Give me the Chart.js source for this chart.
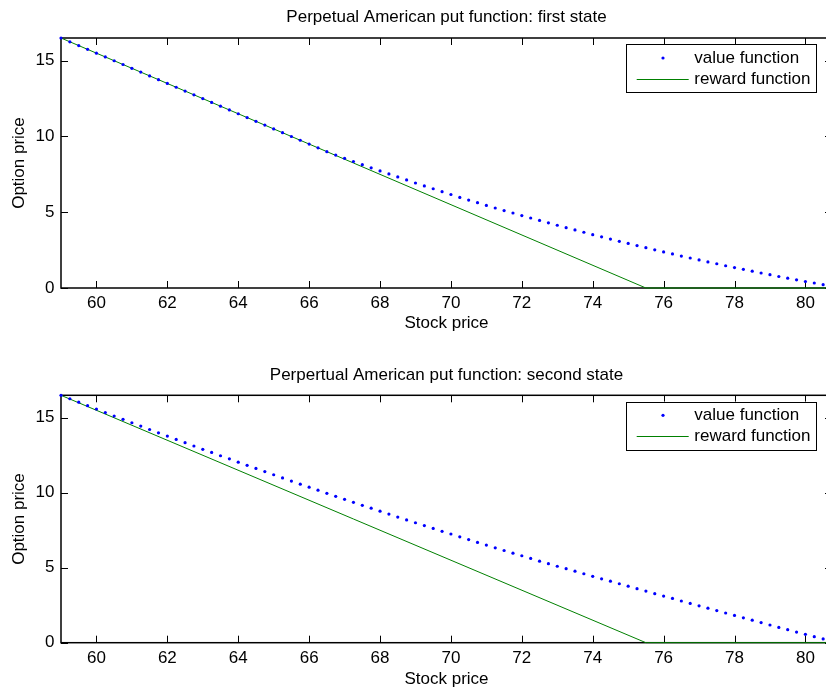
<!DOCTYPE html>
<html>
<head>
<meta charset="utf-8">
<script src="https://cdn.jsdelivr.net/npm/chart.js@4/dist/chart.umd.min.js"></script>
<style>
  html, body { margin: 0; padding: 0; background: #fff; overflow: hidden; width: 826px; height: 694px; }
  .wrap { position: absolute; left: 0; width: 832px; height: 347px; }
  canvas { display: block; }
</style>
</head>
<body>
<div class="wrap" style="top:0"><canvas id="c1" width="832" height="347"></canvas></div>
<div class="wrap" style="top:347px"><canvas id="c2" width="832" height="347"></canvas></div>
<script>
// ---------------- data ----------------
const TITLE_FIRST = 'Perpetual American put function: first state';
const TITLE_SECOND = 'Perpertual American put function: second state';
const X_LABEL = 'Stock price';
const Y_LABEL = 'Option price';
const LEGEND_VALUE = 'value function';
const LEGEND_REWARD = 'reward function';

const X_TICKS = [60, 62, 64, 66, 68, 70, 72, 74, 76, 78, 80];
const Y_TICKS = [0, 5, 10, 15];
const X_RANGE = [59, 80.75];
const Y_RANGE = [0, 16.5];

const STOCK = [
  59, 59.25, 59.5, 59.75, 60, 60.25, 60.5, 60.75, 61, 61.25, 61.5, 61.75,
  62, 62.25, 62.5, 62.75, 63, 63.25, 63.5, 63.75, 64, 64.25, 64.5, 64.75,
  65, 65.25, 65.5, 65.75, 66, 66.25, 66.5, 66.75, 67, 67.25, 67.5, 67.75,
  68, 68.25, 68.5, 68.75, 69, 69.25, 69.5, 69.75, 70, 70.25, 70.5, 70.75,
  71, 71.25, 71.5, 71.75, 72, 72.25, 72.5, 72.75, 73, 73.25, 73.5, 73.75,
  74, 74.25, 74.5, 74.75, 75, 75.25, 75.5, 75.75, 76, 76.25, 76.5, 76.75,
  77, 77.25, 77.5, 77.75, 78, 78.25, 78.5, 78.75, 79, 79.25, 79.5, 79.75,
  80, 80.25, 80.5
];

const VALUE_FIRST = [
  16.5, 16.25, 16.0, 15.75, 15.5, 15.25, 15.0, 14.75, 14.5, 14.25, 14.0, 13.75,
  13.5, 13.25, 13.0, 12.75, 12.5, 12.25, 12.0, 11.75, 11.5, 11.25, 11.0, 10.75,
  10.5, 10.25, 10.0, 9.75, 9.5, 9.25, 9.0, 8.77, 8.56, 8.35, 8.14, 7.93,
  7.73, 7.53, 7.33, 7.13, 6.93, 6.74, 6.55, 6.36, 6.17, 5.98, 5.80, 5.63,
  5.45, 5.28, 5.11, 4.95, 4.78, 4.62, 4.46, 4.30, 4.14, 3.98, 3.83, 3.68,
  3.52, 3.38, 3.23, 3.08, 2.94, 2.80, 2.66, 2.52, 2.38, 2.25, 2.11, 1.98,
  1.85, 1.72, 1.60, 1.47, 1.35, 1.23, 1.11, 0.99, 0.88, 0.76, 0.65, 0.54,
  0.43, 0.33, 0.22
];

const VALUE_SECOND = [
  16.50, 16.27, 16.04, 15.81, 15.58, 15.35, 15.12, 14.90, 14.67, 14.45, 14.22, 14.00,
  13.78, 13.56, 13.34, 13.12, 12.90, 12.69, 12.47, 12.26, 12.04, 11.83, 11.62, 11.41,
  11.20, 10.99, 10.78, 10.57, 10.37, 10.17, 9.96, 9.76, 9.56, 9.36, 9.16, 8.97,
  8.77, 8.58, 8.38, 8.19, 8.00, 7.81, 7.62, 7.43, 7.25, 7.06, 6.88, 6.69,
  6.51, 6.33, 6.15, 5.97, 5.80, 5.62, 5.44, 5.27, 5.10, 4.94, 4.77, 4.60,
  4.43, 4.26, 4.10, 3.93, 3.77, 3.60, 3.44, 3.27, 3.11, 2.95, 2.78, 2.62,
  2.46, 2.30, 2.14, 1.98, 1.82, 1.66, 1.50, 1.34, 1.18, 1.02, 0.87, 0.71,
  0.56, 0.40, 0.25
];

const REWARD_X = [59, 75.5, 80.75];
const REWARD_Y = [16.5, 0, 0];

// ---------------- styling ----------------
Chart.defaults.font.family = "'Liberation Sans', Arial, Helvetica, sans-serif";
Chart.defaults.font.size = 17;
Chart.defaults.color = '#000';

const TICK_LEN = 7;

const matlabAxes = {
  id: 'matlabAxes',
  beforeDatasetsDraw(chart) {
    const { ctx, chartArea: { left, right, top, bottom }, scales: { x, y } } = chart;
    ctx.save();
    ctx.strokeStyle = '#000';
    ctx.lineWidth = 1;
    ctx.beginPath();
    x.ticks.forEach(t => {
      const px = Math.round(x.getPixelForValue(t.value)) + 0.5;
      ctx.moveTo(px, bottom); ctx.lineTo(px, bottom - TICK_LEN);
      ctx.moveTo(px, top); ctx.lineTo(px, top + TICK_LEN);
    });
    y.ticks.forEach(t => {
      const py = Math.round(y.getPixelForValue(t.value)) + 0.5;
      ctx.moveTo(left, py); ctx.lineTo(left + TICK_LEN, py);
      ctx.moveTo(right, py); ctx.lineTo(right - TICK_LEN, py);
    });
    ctx.stroke();
    ctx.lineWidth = 1.5;
    ctx.strokeRect(left, top, right - left, bottom - top);
    ctx.restore();
  }
};

const boxLegend = {
  id: 'boxLegend',
  afterDatasetsDraw(chart) {
    const { ctx, chartArea } = chart;
    const w = 190, h = 48;
    const bx = chartArea.right - 206, by = chartArea.top + 6.3;
    ctx.save();
    ctx.fillStyle = '#fff';
    ctx.fillRect(bx, by, w, h);
    ctx.strokeStyle = '#000';
    ctx.lineWidth = 1;
    ctx.strokeRect(Math.round(bx) + 0.5, Math.round(by) + 0.5, w, h);
    const dsV = chart.data.datasets[0], dsR = chart.data.datasets[1];
    const rowY = [by + 13.7, by + 34.7];
    ctx.fillStyle = dsV.pointBackgroundColor;
    ctx.beginPath();
    ctx.arc(bx + 37, rowY[0], dsV.pointRadius, 0, Math.PI * 2);
    ctx.fill();
    ctx.strokeStyle = dsR.borderColor;
    ctx.lineWidth = dsR.borderWidth;
    ctx.beginPath();
    ctx.moveTo(bx + 10.7, Math.round(rowY[1]) + 0.5);
    ctx.lineTo(bx + 62.7, Math.round(rowY[1]) + 0.5);
    ctx.stroke();
    ctx.fillStyle = '#000';
    ctx.font = "17px 'Liberation Sans', Arial, sans-serif";
    ctx.textBaseline = 'middle';
    ctx.textAlign = 'left';
    ctx.fillText(dsV.label, bx + 68.3, rowY[0]);
    ctx.fillText(dsR.label, bx + 68.3, rowY[1]);
    ctx.restore();
  }
};

function makeChart(id, title, values, cfg) {
  return new Chart(document.getElementById(id), {
    type: 'scatter',
    data: {
      datasets: [
        {
          label: LEGEND_VALUE,
          data: STOCK.map((s, i) => ({ x: s, y: values[i] })),
          showLine: false,
          pointRadius: 1.6,
          pointBorderWidth: 0,
          pointBackgroundColor: '#0000ff',
          pointBorderColor: '#0000ff',
          clip: 4,
          order: 1
        },
        {
          label: LEGEND_REWARD,
          data: REWARD_X.map((s, i) => ({ x: s, y: REWARD_Y[i] })),
          showLine: true,
          pointRadius: 0,
          borderColor: '#008000',
          borderWidth: 1,
          clip: 1,
          order: 2
        }
      ]
    },
    options: {
      responsive: false,
      animation: false,
      devicePixelRatio: 1,
      layout: { padding: 0, autoPadding: false },
      plugins: {
        legend: { display: false },
        tooltip: { enabled: false },
        title: {
          display: true,
          text: title,
          fullSize: false,
          color: '#000',
          font: { size: 17, weight: 'normal', lineHeight: 1.2 },
          padding: cfg.titlePad
        }
      },
      scales: {
        x: {
          type: 'linear',
          min: X_RANGE[0],
          max: X_RANGE[1],
          afterBuildTicks: s => { s.ticks = X_TICKS.map(v => ({ value: v })); },
          afterFit: s => { s.height = cfg.xHeight; s.paddingLeft = 0; s.paddingRight = 0; s.paddingTop = 0; s.paddingBottom = 0; },
          grid: { display: false, drawTicks: false },
          border: { display: false },
          ticks: { padding: 5.3, maxRotation: 0, autoSkip: false, font: { size: 17, lineHeight: 1.2 } },
          title: { display: true, text: X_LABEL, font: { size: 17, lineHeight: 1.2 }, padding: { top: 0, bottom: cfg.xTitlePad } }
        },
        y: {
          type: 'linear',
          min: Y_RANGE[0],
          max: Y_RANGE[1],
          afterBuildTicks: s => { s.ticks = Y_TICKS.map(v => ({ value: v })); },
          afterFit: s => { s.width = 61; s.paddingLeft = 0; s.paddingRight = 0; s.paddingTop = 0; s.paddingBottom = 0; },
          grid: { display: false, drawTicks: false },
          border: { display: false },
          ticks: { padding: 6.5, font: { size: 17, lineHeight: 1.2 } },
          title: { display: true, text: Y_LABEL, font: { size: 17, lineHeight: 1.2 }, padding: { top: 9, bottom: 0 } }
        }
      }
    },
    plugins: [matlabAxes, boxLegend]
  });
}

makeChart('c1', TITLE_FIRST, VALUE_FIRST, { titlePad: { top: 7.5, bottom: 10.1 }, xHeight: 59, xTitlePad: 13.8 });
makeChart('c2', TITLE_SECOND, VALUE_SECOND, { titlePad: { top: 18.1, bottom: 9.8 }, xHeight: 51.3, xTitlePad: 4.6 });
</script>
</body>
</html>
